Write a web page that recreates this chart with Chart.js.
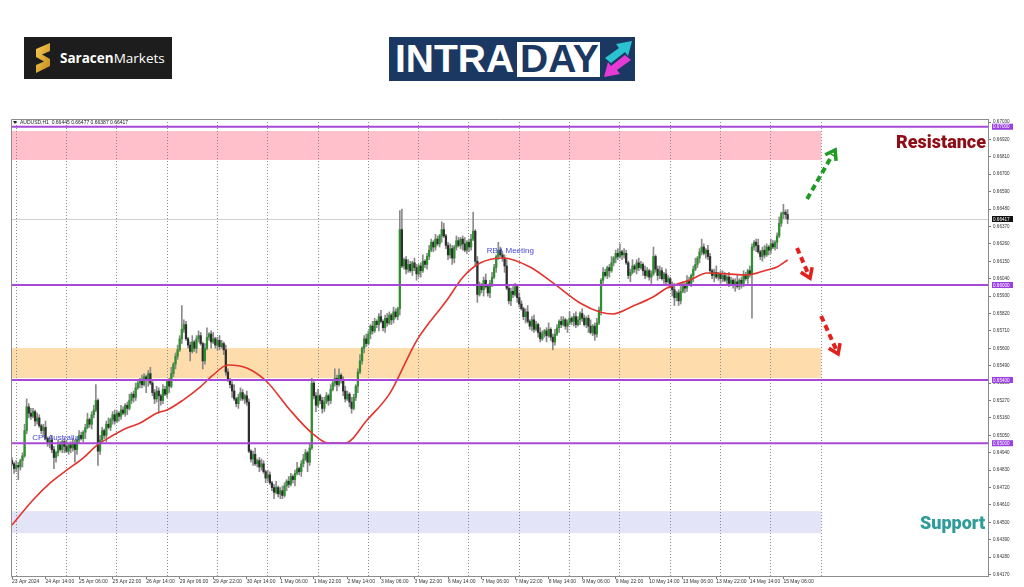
<!DOCTYPE html>
<html><head><meta charset="utf-8">
<script src="https://cdn.jsdelivr.net/npm/chart.js@4.4.1/dist/chart.umd.min.js"></script>
<style>
html,body{margin:0;padding:0;background:#fff;width:1024px;height:587px;overflow:hidden;}
#c{position:absolute;left:0;top:0;}
.abs{position:absolute;}
</style></head><body>
<canvas id="c" width="1024" height="587"></canvas>
<div class="abs" style="left:24px;top:37px;width:148px;height:42px;background:#1d1d1d;">
  <svg class="abs" style="left:9px;top:6px" width="20" height="30" viewBox="0 0 20 30">
    <defs><linearGradient id="gs" x1="0" y1="0" x2="1" y2="1"><stop offset="0" stop-color="#f6cd55"/><stop offset="1" stop-color="#c48a1a"/></linearGradient></defs>
    <path d="M3,6 L17,0 L17,8 L9,11.5 L17,16 L17,23 L3,30 L3,22 L11,18.5 L3,14 Z" fill="url(#gs)"/>
  </svg>
  <div class="abs" style="left:36px;top:0;height:42px;line-height:42px;color:#fff;font-size:13.5px;font-family:'Open Sans',sans-serif;white-space:nowrap;"><b>Saracen</b>Markets</div>
</div>
<div class="abs" style="left:389px;top:37px;width:246px;height:44px;background:#1b3863;">
  <div class="abs" style="left:6px;top:0;height:44px;line-height:44px;font-weight:bold;font-size:39px;font-family:'Liberation Sans',Arial,sans-serif;color:#fff;">INTRA</div>
  <div class="abs" style="left:128px;top:5px;width:83px;height:35px;background:#fff;"></div>
  <div class="abs" style="left:131px;top:0;height:44px;line-height:44px;font-weight:bold;font-size:39px;font-family:'Liberation Sans',Arial,sans-serif;color:#1b3863;">DAY</div>
  <svg class="abs" style="left:213px;top:2px" width="32" height="40" viewBox="0 0 32 40">
    <path d="M3,19 L17,9 L14,5 L30,2 L26,17 L23,13 L9,24 Z" fill="#2bc3cf"/>
    <path d="M29,21 L15,31 L18,35 L2,38 L6,23 L9,27 L23,16 Z" fill="#e53ad6"/>
  </svg>
</div>
<script>
// ---------- data ----------
const yTicks = [0.64170,0.64280,0.64390,0.64500,0.64610,0.64720,0.64830,0.64940,0.65050,0.65160,0.65270,0.65380,0.65490,0.65600,0.65710,0.65820,0.65930,0.66040,0.66150,0.66260,0.66370,0.66480,0.66590,0.66700,0.66810,0.66920,0.67030];
const xTickBars = [0,16,32,48,64,80,96,112,128,144,160,176,192,208,224,240,256,272,288,304,320,336,352,368];
const xTickLabels = ['23 Apr 2024','24 Apr 14:00','25 Apr 06:00','25 Apr 22:00','26 Apr 14:00','29 Apr 06:00','29 Apr 22:00','30 Apr 14:00','1 May 06:00','1 May 22:00','2 May 14:00','3 May 06:00','3 May 22:00','6 May 14:00','7 May 06:00','7 May 22:00','8 May 14:00','9 May 06:00','9 May 22:00','10 May 14:00','13 May 06:00','13 May 22:00','14 May 14:00','15 May 06:00'];
const daySeparatorBars = [2,26,50,74,98,122,146,170,194,218,242,266,290,314,338,362,386];

const opens = [
0.6489,0.6487,0.6484,0.6486,0.6485,0.6489,0.6492,0.6508,0.6523,0.6519,
0.6517,0.6520,0.6514,0.6516,0.6511,0.6508,0.6510,0.6503,0.6500,0.6502,
0.6496,0.6491,0.6494,0.6499,0.6496,0.6501,0.6498,0.6495,0.6499,0.6497,
0.6500,0.6496,0.6502,0.6505,0.6503,0.6507,0.6510,0.6515,0.6512,0.6518,
0.6521,0.6527,0.6495,0.6502,0.6508,0.6505,0.6512,0.6510,0.6515,0.6518,
0.6514,0.6519,0.6517,0.6521,0.6519,0.6524,0.6522,0.6527,0.6531,0.6529,
0.6535,0.6538,0.6540,0.6537,0.6542,0.6540,0.6544,0.6538,0.6532,0.6528,
0.6533,0.6530,0.6527,0.6534,0.6531,0.6539,0.6536,0.6544,0.6550,0.6555,
0.6559,0.6566,0.6572,0.6575,0.6566,0.6562,0.6558,0.6564,0.6560,0.6566,
0.6568,0.6563,0.6552,0.6560,0.6567,0.6569,0.6564,0.6566,0.6562,0.6565,
0.6561,0.6563,0.6559,0.6545,0.6540,0.6537,0.6533,0.6528,0.6525,0.6529,
0.6532,0.6528,0.6530,0.6526,0.6495,0.6490,0.6493,0.6487,0.6489,0.6485,
0.6487,0.6482,0.6478,0.6480,0.6475,0.6472,0.6469,0.6472,0.6468,0.6470,
0.6467,0.6473,0.6476,0.6474,0.6479,0.6477,0.6481,0.6484,0.6482,0.6487,
0.6490,0.6494,0.6488,0.6497,0.6538,0.6530,0.6524,0.6530,0.6527,0.6522,
0.6526,0.6530,0.6527,0.6534,0.6538,0.6541,0.6537,0.6543,0.6540,0.6533,
0.6528,0.6531,0.6526,0.6522,0.6529,0.6536,0.6545,0.6552,0.6560,0.6566,
0.6563,0.6569,0.6574,0.6571,0.6577,0.6575,0.6580,0.6577,0.6573,0.6579,
0.6576,0.6581,0.6578,0.6583,0.6580,0.6585,0.6635,0.6612,0.6616,0.6610,
0.6613,0.6609,0.6614,0.6611,0.6607,0.6612,0.6609,0.6615,0.6613,0.6618,
0.6622,0.6627,0.6624,0.6629,0.6626,0.6631,0.6635,0.6631,0.6625,0.6619,
0.6623,0.6617,0.6624,0.6628,0.6625,0.6629,0.6626,0.6622,0.6627,0.6624,
0.6629,0.6634,0.6615,0.6594,0.6600,0.6597,0.6603,0.6599,0.6595,0.6601,
0.6605,0.6611,0.6618,0.6622,0.6619,0.6617,0.6612,0.6598,0.6590,0.6596,
0.6594,0.6599,0.6592,0.6588,0.6585,0.6580,0.6583,0.6577,0.6574,0.6578,
0.6572,0.6575,0.6570,0.6566,0.6569,0.6571,0.6568,0.6572,0.6567,0.6564,
0.6569,0.6573,0.6577,0.6575,0.6578,0.6574,0.6576,0.6579,0.6577,0.6580,
0.6575,0.6578,0.6582,0.6579,0.6575,0.6579,0.6574,0.6570,0.6574,0.6569,
0.6576,0.6584,0.6603,0.6608,0.6606,0.6611,0.6609,0.6614,0.6617,0.6620,
0.6618,0.6621,0.6619,0.6620,0.6614,0.6606,0.6608,0.6612,0.6610,0.6614,
0.6611,0.6613,0.6609,0.6606,0.6609,0.6605,0.6607,0.6618,0.6610,0.6606,
0.6609,0.6604,0.6607,0.6602,0.6604,0.6600,0.6597,0.6592,0.6595,0.6590,
0.6596,0.6600,0.6598,0.6603,0.6601,0.6606,0.6610,0.6613,0.6617,0.6621,
0.6624,0.6620,0.6622,0.6618,0.6609,0.6606,0.6608,0.6605,0.6607,0.6604,
0.6606,0.6603,0.6605,0.6601,0.6603,0.6600,0.6602,0.6599,0.6603,0.6601,
0.6606,0.6604,0.6609,0.6607,0.6624,0.6627,0.6625,0.6621,0.6618,0.6622,
0.6619,0.6624,0.6622,0.6626,0.6624,0.6627,0.6631,0.6639,0.6645,0.6646,
0.66445];
const highs = [
0.6491,0.6488,0.6489,0.6488,0.6490,0.6494,0.6512,0.6528,0.6525,0.6522,
0.6522,0.6521,0.6519,0.6518,0.6512,0.6512,0.6514,0.6504,0.6504,0.6505,
0.6498,0.6495,0.6502,0.6501,0.6502,0.6503,0.6502,0.6500,0.6501,0.6503,
0.6502,0.6503,0.6508,0.6507,0.6508,0.6512,0.6519,0.6516,0.6520,0.6524,
0.6537,0.6528,0.6505,0.6510,0.6509,0.6514,0.6516,0.6516,0.6520,0.6521,
0.6521,0.6520,0.6524,0.6523,0.6525,0.6526,0.6531,0.6532,0.6533,0.6538,
0.6540,0.6541,0.6543,0.6544,0.6543,0.6546,0.6548,0.6539,0.6534,0.6536,
0.6535,0.6531,0.6537,0.6536,0.6540,0.6541,0.6548,0.6551,0.6557,0.6562,
0.6568,0.6587,0.6578,0.6577,0.6567,0.6564,0.6568,0.6565,0.6568,0.6571,
0.6570,0.6564,0.6563,0.6573,0.6570,0.6571,0.6570,0.6567,0.6567,0.6568,
0.6565,0.6564,0.6562,0.6547,0.6541,0.6539,0.6537,0.6529,0.6531,0.6535,
0.6534,0.6531,0.6533,0.6528,0.6496,0.6495,0.6497,0.6490,0.6491,0.6490,
0.6489,0.6483,0.6483,0.6482,0.6476,0.6474,0.6476,0.6473,0.6472,0.6473,
0.6475,0.6477,0.6479,0.6481,0.6480,0.6483,0.6488,0.6485,0.6489,0.6493,
0.6496,0.6495,0.6500,0.6541,0.6539,0.6532,0.6534,0.6531,0.6529,0.6529,
0.6532,0.6531,0.6537,0.6540,0.6547,0.6543,0.6547,0.6544,0.6542,0.6536,
0.6533,0.6532,0.6529,0.6531,0.6537,0.6547,0.6556,0.6561,0.6568,0.6569,
0.6571,0.6575,0.6577,0.6579,0.6578,0.6582,0.6584,0.6578,0.6581,0.6582,
0.6583,0.6582,0.6586,0.6585,0.6586,0.6647,0.6648,0.6617,0.6618,0.6616,
0.6615,0.6615,0.6617,0.6613,0.6613,0.6614,0.6619,0.6616,0.6620,0.6625,
0.6629,0.6628,0.6632,0.6631,0.6632,0.6640,0.6639,0.6632,0.6627,0.6626,
0.6625,0.6625,0.6631,0.6630,0.6630,0.6631,0.6630,0.6628,0.6629,0.6632,
0.6646,0.6635,0.6618,0.6602,0.6601,0.6605,0.6607,0.6600,0.6603,0.6608,
0.6613,0.6619,0.6627,0.6624,0.6620,0.6619,0.6616,0.6599,0.6598,0.6599,
0.6601,0.6600,0.6595,0.6590,0.6586,0.6585,0.6587,0.6578,0.6580,0.6581,
0.6577,0.6576,0.6573,0.6571,0.6572,0.6573,0.6576,0.6573,0.6569,0.6572,
0.6575,0.6578,0.6580,0.6580,0.6579,0.6578,0.6583,0.6580,0.6582,0.6583,
0.6580,0.6583,0.6585,0.6581,0.6580,0.6581,0.6578,0.6575,0.6576,0.6579,
0.6586,0.6604,0.6611,0.6610,0.6612,0.6613,0.6618,0.6618,0.6622,0.6623,
0.6626,0.6622,0.6623,0.6622,0.6615,0.6610,0.6616,0.6613,0.6616,0.6617,
0.6615,0.6614,0.6612,0.6611,0.6610,0.6609,0.6624,0.6619,0.6612,0.6612,
0.6611,0.6608,0.6610,0.6606,0.6605,0.6602,0.6601,0.6596,0.6597,0.6599,
0.6602,0.6601,0.6606,0.6605,0.6607,0.6612,0.6617,0.6618,0.6623,0.6629,
0.6626,0.6623,0.6625,0.6620,0.6610,0.6610,0.6612,0.6608,0.6609,0.6609,
0.6608,0.6606,0.6608,0.6605,0.6604,0.6604,0.6606,0.6604,0.6605,0.6609,
0.6608,0.6610,0.6612,0.6626,0.6628,0.6629,0.6629,0.6622,0.6624,0.6625,
0.6626,0.6625,0.6629,0.6628,0.6628,0.6633,0.6643,0.6646,0.6651,0.66475,
0.66477];
const lows = [
0.6486,0.6481,0.6482,0.6477,0.6483,0.6485,0.6491,0.6506,0.6516,0.6515,
0.6516,0.6511,0.6512,0.6510,0.6506,0.6504,0.6502,0.6498,0.6497,0.6494,
0.6484,0.6488,0.6492,0.6495,0.6494,0.6494,0.6494,0.6493,0.6494,0.6495,
0.6488,0.6493,0.6500,0.6502,0.6501,0.6503,0.6509,0.6510,0.6509,0.6516,
0.6520,0.6486,0.6493,0.6501,0.6503,0.6501,0.6509,0.6508,0.6512,0.6512,
0.6513,0.6514,0.6515,0.6518,0.6517,0.6518,0.6521,0.6525,0.6526,0.6527,
0.6534,0.6535,0.6535,0.6536,0.6532,0.6536,0.6537,0.6530,0.6525,0.6526,
0.6519,0.6524,0.6525,0.6530,0.6529,0.6532,0.6535,0.6542,0.6547,0.6553,
0.6558,0.6563,0.6570,0.6565,0.6560,0.6552,0.6557,0.6558,0.6557,0.6564,
0.6562,0.6547,0.6550,0.6559,0.6565,0.6560,0.6563,0.6560,0.6559,0.6559,
0.6560,0.6556,0.6543,0.6539,0.6535,0.6529,0.6527,0.6523,0.6522,0.6527,
0.6527,0.6525,0.6524,0.6494,0.6488,0.6486,0.6486,0.6485,0.6482,0.6483,
0.6481,0.6475,0.6476,0.6474,0.6470,0.6465,0.6468,0.6466,0.6465,0.6465,
0.6466,0.6470,0.6472,0.6473,0.6475,0.6473,0.6480,0.6480,0.6479,0.6485,
0.6489,0.6482,0.6486,0.6496,0.6528,0.6520,0.6523,0.6525,0.6519,0.6520,
0.6525,0.6524,0.6525,0.6533,0.6536,0.6533,0.6536,0.6538,0.6530,0.6526,
0.6527,0.6523,0.6519,0.6521,0.6527,0.6532,0.6544,0.6550,0.6557,0.6561,
0.6562,0.6566,0.6569,0.6570,0.6573,0.6571,0.6576,0.6571,0.6570,0.6574,
0.6575,0.6575,0.6576,0.6579,0.6578,0.6581,0.6611,0.6610,0.6607,0.6608,
0.6608,0.6606,0.6609,0.6603,0.6605,0.6605,0.6608,0.6611,0.6610,0.6616,
0.6621,0.6621,0.6622,0.6625,0.6624,0.6627,0.6630,0.6623,0.6616,0.6617,
0.6613,0.6614,0.6622,0.6624,0.6623,0.6622,0.6621,0.6620,0.6621,0.6622,
0.6628,0.6612,0.6589,0.6593,0.6595,0.6593,0.6598,0.6593,0.6592,0.6599,
0.6604,0.6608,0.6616,0.6618,0.6615,0.6608,0.6597,0.6588,0.6587,0.6592,
0.6593,0.6589,0.6586,0.6584,0.6578,0.6576,0.6576,0.6572,0.6571,0.6570,
0.6571,0.6567,0.6564,0.6565,0.6567,0.6564,0.6567,0.6565,0.6559,0.6562,
0.6568,0.6570,0.6573,0.6574,0.6572,0.6570,0.6575,0.6575,0.6574,0.6573,
0.6574,0.6575,0.6577,0.6574,0.6573,0.6570,0.6569,0.6568,0.6565,0.6567,
0.6575,0.6581,0.6601,0.6605,0.6604,0.6605,0.6608,0.6612,0.6614,0.6616,
0.6617,0.6616,0.6617,0.6613,0.6604,0.6602,0.6607,0.6608,0.6607,0.6609,
0.6610,0.6606,0.6604,0.6605,0.6603,0.6601,0.6606,0.6608,0.6603,0.6604,
0.6603,0.6601,0.6600,0.6601,0.6598,0.6593,0.6587,0.6590,0.6587,0.6588,
0.6595,0.6595,0.6596,0.6600,0.6599,0.6602,0.6609,0.6611,0.6614,0.6619,
0.6619,0.6617,0.6616,0.6608,0.6604,0.6602,0.6604,0.6603,0.6601,0.6602,
0.6602,0.6600,0.6599,0.6600,0.6598,0.6596,0.6598,0.6597,0.6598,0.6599,
0.6603,0.6601,0.6605,0.6579,0.6622,0.6621,0.6620,0.6616,0.6615,0.6617,
0.6618,0.6619,0.6620,0.6623,0.6622,0.6623,0.6630,0.6637,0.6642,0.66420,
0.66387];
const closes = [
0.6487,0.6484,0.6486,0.6485,0.6489,0.6492,0.6508,0.6523,0.6519,0.6517,
0.6520,0.6514,0.6516,0.6511,0.6508,0.6510,0.6503,0.6500,0.6502,0.6496,
0.6491,0.6494,0.6499,0.6496,0.6501,0.6498,0.6495,0.6499,0.6497,0.6500,
0.6496,0.6502,0.6505,0.6503,0.6507,0.6510,0.6515,0.6512,0.6518,0.6521,
0.6527,0.6495,0.6502,0.6508,0.6505,0.6512,0.6510,0.6515,0.6518,0.6514,
0.6519,0.6517,0.6521,0.6519,0.6524,0.6522,0.6527,0.6531,0.6529,0.6535,
0.6538,0.6540,0.6537,0.6542,0.6540,0.6544,0.6538,0.6532,0.6528,0.6533,
0.6530,0.6527,0.6534,0.6531,0.6539,0.6536,0.6544,0.6550,0.6555,0.6559,
0.6566,0.6572,0.6575,0.6566,0.6562,0.6558,0.6564,0.6560,0.6566,0.6568,
0.6563,0.6552,0.6560,0.6567,0.6569,0.6564,0.6566,0.6562,0.6565,0.6561,
0.6563,0.6559,0.6545,0.6540,0.6537,0.6533,0.6528,0.6525,0.6529,0.6532,
0.6528,0.6530,0.6526,0.6495,0.6490,0.6493,0.6487,0.6489,0.6485,0.6487,
0.6482,0.6478,0.6480,0.6475,0.6472,0.6469,0.6472,0.6468,0.6470,0.6467,
0.6473,0.6476,0.6474,0.6479,0.6477,0.6481,0.6484,0.6482,0.6487,0.6490,
0.6494,0.6488,0.6497,0.6538,0.6530,0.6524,0.6530,0.6527,0.6522,0.6526,
0.6530,0.6527,0.6534,0.6538,0.6541,0.6537,0.6543,0.6540,0.6533,0.6528,
0.6531,0.6526,0.6522,0.6529,0.6536,0.6545,0.6552,0.6560,0.6566,0.6563,
0.6569,0.6574,0.6571,0.6577,0.6575,0.6580,0.6577,0.6573,0.6579,0.6576,
0.6581,0.6578,0.6583,0.6580,0.6585,0.6635,0.6612,0.6616,0.6610,0.6613,
0.6609,0.6614,0.6611,0.6607,0.6612,0.6609,0.6615,0.6613,0.6618,0.6622,
0.6627,0.6624,0.6629,0.6626,0.6631,0.6635,0.6631,0.6625,0.6619,0.6623,
0.6617,0.6624,0.6628,0.6625,0.6629,0.6626,0.6622,0.6627,0.6624,0.6629,
0.6634,0.6615,0.6594,0.6600,0.6597,0.6603,0.6599,0.6595,0.6601,0.6605,
0.6611,0.6618,0.6622,0.6619,0.6617,0.6612,0.6598,0.6590,0.6596,0.6594,
0.6599,0.6592,0.6588,0.6585,0.6580,0.6583,0.6577,0.6574,0.6578,0.6572,
0.6575,0.6570,0.6566,0.6569,0.6571,0.6568,0.6572,0.6567,0.6564,0.6569,
0.6573,0.6577,0.6575,0.6578,0.6574,0.6576,0.6579,0.6577,0.6580,0.6575,
0.6578,0.6582,0.6579,0.6575,0.6579,0.6574,0.6570,0.6574,0.6569,0.6576,
0.6584,0.6603,0.6608,0.6606,0.6611,0.6609,0.6614,0.6617,0.6620,0.6618,
0.6621,0.6619,0.6620,0.6614,0.6606,0.6608,0.6612,0.6610,0.6614,0.6611,
0.6613,0.6609,0.6606,0.6609,0.6605,0.6607,0.6618,0.6610,0.6606,0.6609,
0.6604,0.6607,0.6602,0.6604,0.6600,0.6597,0.6592,0.6595,0.6590,0.6596,
0.6600,0.6598,0.6603,0.6601,0.6606,0.6610,0.6613,0.6617,0.6621,0.6624,
0.6620,0.6622,0.6618,0.6609,0.6606,0.6608,0.6605,0.6607,0.6604,0.6606,
0.6603,0.6605,0.6601,0.6603,0.6600,0.6602,0.6599,0.6603,0.6601,0.6606,
0.6604,0.6609,0.6607,0.6624,0.6627,0.6625,0.6621,0.6618,0.6622,0.6619,
0.6624,0.6622,0.6626,0.6624,0.6627,0.6631,0.6639,0.6645,0.6646,0.66445,
0.66417];

// moving average
const maBars = [0,10,18.1,26.2,33.9,40.6,46.8,54.8,61.1,69.2,73.9,81.6,89.7,95.9,103,112,121.7,132.6,143.1,150.8,158.9,169.4,180.3,189.9,193.2,207.5,215.2,223.3,234.3,247.1,258.1,271,280.5,286.7,296.3,305.8,312.5,323.5,331.6,341.1,350.6,360.2,365,370];
const maValues = [0.64483,0.64641,0.64748,0.64831,0.64906,0.64988,0.65039,0.65096,0.65128,0.65191,0.65210,0.65273,0.65355,0.65431,0.65494,0.65475,0.65387,0.65210,0.65064,0.65001,0.65001,0.65147,0.65317,0.65570,0.65652,0.65905,0.66051,0.66139,0.66171,0.66114,0.66013,0.65886,0.65829,0.65817,0.65867,0.65924,0.65981,0.66032,0.66076,0.66070,0.66063,0.66095,0.66114,0.66158];

// levels and zones
const levelLines = [0.67000,0.66000,0.65400,0.65000];
const resistanceZone = [0.66790,0.66973];
const midZone = [0.65412,0.65602];
const supportZone = [0.64432,0.64571];
const zoneEndBar = 386;
const lastPrice = 0.66417;
const titleText = 'AUDUSD,H1  0.66445 0.66477 0.66387 0.66417';

// annotation arrows: [tailBar, tailPrice, tipBar, tipPrice]
const arrowUp = [379.3,0.66544,392.7,0.66853];
const arrowDown1 = [374.5,0.66234,380.7,0.66044];
const arrowDown2 = [386.0,0.65804,394.1,0.65564];
const rbaNote = [226.5,0.66215];
const cpiNote = [9.7,0.65035];

// ---------- chart ----------
const FONT = "'Liberation Sans', Arial, sans-serif";
Chart.defaults.font.family = FONT;
const PURPLE = '#a64ad6';

const idx = closes.map((_, i) => i);
const wickData = idx.map(i => ({x: i, y: [lows[i], highs[i]]}));
const bodyData = idx.map(i => ({x: i, y: [opens[i], closes[i]]}));
const maData = maBars.map((b, k) => ({x: b, y: maValues[k]}));

function arrow(ctx, xs, ys, a, color) {
  const x0 = xs.getPixelForValue(a[0]), y0 = ys.getPixelForValue(a[1]);
  const x1 = xs.getPixelForValue(a[2]), y1 = ys.getPixelForValue(a[3]);
  const ang = Math.atan2(y1 - y0, x1 - x0);
  const L = Math.hypot(x1 - x0, y1 - y0);
  ctx.save();
  ctx.strokeStyle = color; ctx.lineWidth = 4; ctx.lineCap = 'butt';
  ctx.setLineDash([6, 4]);
  ctx.beginPath(); ctx.moveTo(x0, y0);
  ctx.lineTo(x0 + Math.cos(ang) * (L - 5), y0 + Math.sin(ang) * (L - 5)); ctx.stroke();
  ctx.setLineDash([]); ctx.lineWidth = 3.5; ctx.lineJoin = 'miter';
  const h = 11, s = 0.6;
  ctx.beginPath();
  ctx.moveTo(x1 - h * Math.cos(ang - s), y1 - h * Math.sin(ang - s));
  ctx.lineTo(x1, y1);
  ctx.lineTo(x1 - h * Math.cos(ang + s), y1 - h * Math.sin(ang + s));
  ctx.stroke();
  ctx.restore();
}

const overlay = {
  id: 'overlay',
  beforeDatasetsDraw(chart) {
    const {ctx, chartArea: a, scales: {x, y}} = chart;
    ctx.save();
    ctx.beginPath(); ctx.rect(a.left, a.top, a.right - a.left, a.bottom - a.top); ctx.clip();
    const zr = x.getPixelForValue(zoneEndBar);
    [[resistanceZone, '#ffc0cb'], [midZone, '#fedcac'], [supportZone, '#e4e4f8']].forEach(([z, c]) => {
      const t = y.getPixelForValue(z[1]), b = y.getPixelForValue(z[0]);
      ctx.fillStyle = c; ctx.fillRect(a.left, t, zr - a.left, b - t);
    });
    ctx.strokeStyle = '#8a8a8a'; ctx.lineWidth = 1; ctx.setLineDash([1, 2]);
    daySeparatorBars.forEach(b => {
      const px = Math.round(x.getPixelForValue(b - 0.25)) + 0.5;
      ctx.beginPath(); ctx.moveTo(px, a.top); ctx.lineTo(px, a.bottom); ctx.stroke();
    });
    ctx.setLineDash([]);
    ctx.strokeStyle = '#cfcfcf';
    const py = Math.round(y.getPixelForValue(lastPrice)) + 0.5;
    ctx.beginPath(); ctx.moveTo(a.left, py); ctx.lineTo(a.right, py); ctx.stroke();
    ctx.restore();
  },
  afterDatasetsDraw(chart) {
    const {ctx, chartArea: a, scales: {x, y}} = chart;
    ctx.save();
    ctx.strokeStyle = PURPLE; ctx.lineWidth = 2;
    levelLines.forEach(v => {
      const py = y.getPixelForValue(v);
      ctx.beginPath(); ctx.moveTo(a.left, py); ctx.lineTo(a.right, py); ctx.stroke();
    });
    ctx.fillStyle = '#4646d8'; ctx.font = '8px ' + FONT; ctx.textBaseline = 'middle'; ctx.textAlign = 'left';
    ctx.fillText('RBA Meeting', x.getPixelForValue(rbaNote[0]), y.getPixelForValue(rbaNote[1]));
    ctx.fillText('CPI Australia', x.getPixelForValue(cpiNote[0]), y.getPixelForValue(cpiNote[1]));
    arrow(ctx, x, y, arrowUp, '#1f9a22');
    arrow(ctx, x, y, arrowDown1, '#e3201c');
    arrow(ctx, x, y, arrowDown2, '#e3201c');
    ctx.restore();
  },
  afterDraw(chart) {
    const {ctx, chartArea: a, scales: {x, y}} = chart;
    ctx.save();
    ctx.strokeStyle = '#8c8c8c'; ctx.lineWidth = 1;
    ctx.beginPath();
    ctx.moveTo(a.left + 0.5, a.bottom); ctx.lineTo(a.left + 0.5, a.top + 0.5); ctx.lineTo(a.right, a.top + 0.5);
    ctx.stroke();
    // price boxes on the axis
    ctx.font = '4.6px ' + FONT; ctx.textBaseline = 'middle'; ctx.textAlign = 'left';
    const box = (v, bg) => {
      const py = y.getPixelForValue(v);
      ctx.fillStyle = bg; ctx.fillRect(a.right + 4, py - 3, 21, 6);
      ctx.fillStyle = '#fff'; ctx.fillText(v.toFixed(5), a.right + 5, py + 0.3);
    };
    levelLines.forEach(v => box(v, '#9b3fe0'));
    box(lastPrice, '#111');
    // title
    ctx.fillStyle = '#222';
    ctx.beginPath(); ctx.moveTo(13, 121); ctx.lineTo(17, 121); ctx.lineTo(15, 124); ctx.closePath(); ctx.fill();
    ctx.font = '5px ' + FONT; ctx.fillText(titleText, 20, 122.5);
    // zone captions
    ctx.font = "900 18px Roboto, 'Open Sans', sans-serif";
    ctx.fillStyle = '#8e0d16'; ctx.fillText('Resistance', 896, 143.5);
    ctx.fillStyle = '#2e9c9a'; ctx.fillText('Support', 920, 524.5);
    ctx.restore();
  }
};

new Chart(document.getElementById('c'), {
  type: 'bar',
  data: {datasets: [
    {type: 'line', data: maData, borderColor: '#e2342c', borderWidth: 1.6, pointRadius: 0, cubicInterpolationMode: 'monotone', order: 0},
    {data: bodyData, backgroundColor: c => (closes[c.dataIndex] >= opens[c.dataIndex] ? '#2e8f2e' : '#2e2e2e'), barThickness: 1.6, grouped: false, minBarLength: 1, order: 1},
    {data: wickData, backgroundColor: '#8a8a8a', barThickness: 1, grouped: false, order: 2}
  ]},
  options: {
    responsive: false, animation: false, devicePixelRatio: 1,
    layout: {padding: {left: 11, top: 119, right: 0, bottom: 0}},
    plugins: {legend: {display: false}, tooltip: {enabled: false}},
    scales: {
      x: {
        type: 'linear', min: -0.48, max: 465.6, offset: false,
        afterBuildTicks: s => { s.ticks = xTickBars.map(v => ({value: v})); },
        ticks: {callback: (v, i) => xTickLabels[i], align: 'start', autoSkip: false, maxRotation: 0, minRotation: 0, font: {size: 5}, color: '#333', padding: 0},
        grid: {offset: false, drawOnChartArea: false, drawTicks: true, tickLength: 3, color: '#777'},
        border: {color: '#8c8c8c'},
        afterFit: s => { s.height = 11; s.paddingLeft = 0; s.paddingRight = 0; }
      },
      y: {
        position: 'right', min: 0.64161, max: 0.67049,
        afterBuildTicks: s => { s.ticks = yTicks.map(v => ({value: v})); },
        ticks: {callback: v => Number(v).toFixed(5), font: {size: 4.6}, color: '#333', padding: 2},
        grid: {drawOnChartArea: false, drawTicks: true, tickLength: 3, color: '#777'},
        border: {color: '#8c8c8c'},
        afterFit: s => { s.width = 36; s.paddingTop = 0; s.paddingBottom = 0; }
      }
    }
  },
  plugins: [overlay]
});
</script>
</body></html>
